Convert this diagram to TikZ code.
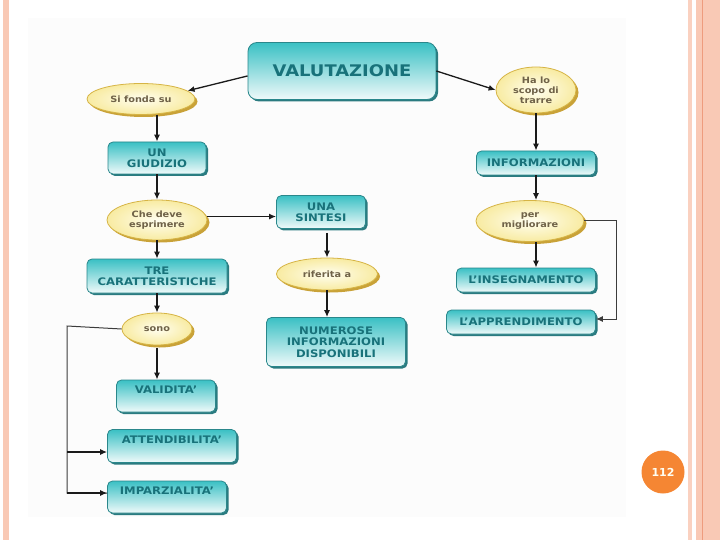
\documentclass[tikz,border=0pt]{standalone}
\usepackage{fontspec}
\usetikzlibrary{shapes.geometric, shadows, arrows.meta}

\newfontfamily\mapfont[FakeStretch=1.12]{DejaVu Sans}
\newfontfamily\numfont{DejaVu Sans}

\definecolor{boxtop}{HTML}{3AC0C4}
\definecolor{boxbot}{HTML}{F0FAFA}
\definecolor{boxline}{HTML}{2A878B}
\definecolor{boxshade}{HTML}{2B7B80}
\definecolor{boxtext}{HTML}{18727A}
\definecolor{bubin}{HTML}{FFFEF0}
\definecolor{bubout}{HTML}{F8EBA2}
\definecolor{bubline}{HTML}{D6B445}
\definecolor{bubshade}{HTML}{C9A238}
\definecolor{bubtext}{HTML}{6F6248}
\definecolor{linkcol}{HTML}{1A1A1A}
\definecolor{stripe}{HTML}{F9C9B5}
\definecolor{stripedark}{HTML}{EE9C7E}
\definecolor{panel}{HTML}{FCFCFC}
\definecolor{pageorange}{HTML}{F58633}

\tikzset{
  box/.style={draw=boxline, line width=0.8pt, rounded corners=5pt,
    top color=boxtop, bottom color=boxbot, text=boxtext, inner sep=0pt,
    align=center, font=\mapfont\fontsize{10.4}{11.4}\bfseries,
    drop shadow={shadow xshift=2pt, shadow yshift=-2pt, fill=boxshade, opacity=1}},
  bubble/.style={ellipse, draw=bubline, line width=0.8pt,
    inner color=bubin, outer color=bubout, text=bubtext, inner sep=0pt,
    align=center, font=\mapfont\fontsize{8.7}{10}\bfseries,
    drop shadow={shadow xshift=2.5pt, shadow yshift=-2.5pt, fill=bubshade, opacity=1}},
  toptext/.style={text depth=12pt},
  link/.style={->, draw=linkcol, line width=1.3pt},
  thinlink/.style={draw=linkcol!85, line width=1pt}
}

\begin{document}
\begin{tikzpicture}[x=1pt, y=-1pt, >={Latex[length=7pt,width=6pt]}]

    \useasboundingbox (0,0) rectangle (720,540);
    % slide border
    \fill[panel] (28,18) rectangle (626,517);
    \fill[stripe] (3,0) rectangle (9,540);
    \fill[stripe!85] (688,0) rectangle (692,540);
    \fill[stripe] (696,0) rectangle (720,540);
    \fill[stripedark] (702,0) rectangle (703.2,540);

    % main topic
    \node[box, rounded corners=9pt, minimum width=188pt, minimum height=57pt,
          font=\mapfont\fontsize{16}{18}\bfseries] (valutazione) at (342,71) {VALUTAZIONE};

    % left branch
    \node[bubble, minimum width=108pt, minimum height=31pt] (sifonda) at (141,99) {Si fonda su};
    \node[box, minimum width=98pt, minimum height=32pt] (giudizio) at (157,158) {UN\\GIUDIZIO};
    \node[bubble, minimum width=100pt, minimum height=40pt] (chedeve) at (157,220) {Che deve\\esprimere};
    \node[box, minimum width=140pt, minimum height=34pt] (tre) at (157,276) {TRE\\CARATTERISTICHE};
    \node[bubble, minimum width=70pt, minimum height=32pt] (sono) at (157,329) {sono};
    \node[box, toptext, minimum width=99pt, minimum height=32pt] (validita) at (166,396) {VALIDITA’};
    \node[box, toptext, minimum width=129pt, minimum height=33pt] (attendibilita) at (172,446) {ATTENDIBILITA’};
    \node[box, toptext, minimum width=119pt, minimum height=32pt] (imparzialita) at (167,497) {IMPARZIALITA’};

    % middle branch
    \node[box, minimum width=89pt, minimum height=33pt] (sintesi) at (321,212) {UNA\\SINTESI};
    \node[bubble, minimum width=101pt, minimum height=32pt] (riferita) at (327,274) {riferita a};
    \node[box, minimum width=139pt, minimum height=49pt] (numerose) at (336,342) {NUMEROSE\\INFORMAZIONI\\DISPONIBILI};

    % right branch
    \node[bubble, minimum width=80pt, minimum height=46pt] (hascopo) at (536,90) {Ha lo\\scopo di\\trarre};
    \node[box, minimum width=119pt, minimum height=24pt] (informazioni) at (536,163) {INFORMAZIONI};
    \node[bubble, minimum width=108pt, minimum height=41pt] (permigliorare) at (530,221) {per\\migliorare};
    \node[box, minimum width=139pt, minimum height=24pt] (insegnamento) at (526,280) {L’INSEGNAMENTO};
    \node[box, minimum width=149pt, minimum height=24pt] (apprendimento) at (521,322) {L’APPRENDIMENTO};

    % page number
    \node[circle, fill=pageorange, minimum size=43pt, inner sep=0pt, text=white!95!yellow,
          font=\numfont\fontsize{11}{13}\bfseries] (pagina) at (663,472) {112};

    \coordinate (bus) at (67,326);

    \draw[link] (valutazione.183) -- (sifonda.10);
    \draw[link] (valutazione.east) -- (hascopo.west);
    \draw[link] (giudizio.north |- sifonda.south) -- (giudizio.north);
    \draw[link] (giudizio) -- (chedeve);
    \draw[link] (chedeve.4) -- (chedeve.4 -| sintesi.west);
    \draw[link] (chedeve) -- (tre);
    \draw[link] (tre) -- (sono);
    \draw[link] ([yshift=-3pt]sono.south) -- (sono.south |- validita.north);
    \draw[thinlink] (sono.west) -- (bus) |- ([yshift=4pt]imparzialita.west);
    \draw[link] (bus |- imparzialita.west) ++(0,-4) -- ([yshift=4pt]imparzialita.west);
    \draw[link] (bus |- attendibilita.west) ++(0,6) -- ([yshift=-6pt]attendibilita.west);
    \draw[link] ([yshift=-4pt]sintesi.south -| riferita.north) -- (riferita.north);
    \draw[link] (riferita) -- (riferita |- numerose.north);
    \draw[link] (hascopo.south -| informazioni.north) -- (informazioni.north);
    \draw[link] (informazioni.south) -- (informazioni.south |- permigliorare.north);
    \draw[link] (permigliorare.south -| informazioni.south) -- (informazioni.south |- insegnamento.north);
    \draw[thinlink, ->] (permigliorare.east) -- ++(32,0) |- ([yshift=3pt]apprendimento.east);

\end{tikzpicture}
\end{document}
